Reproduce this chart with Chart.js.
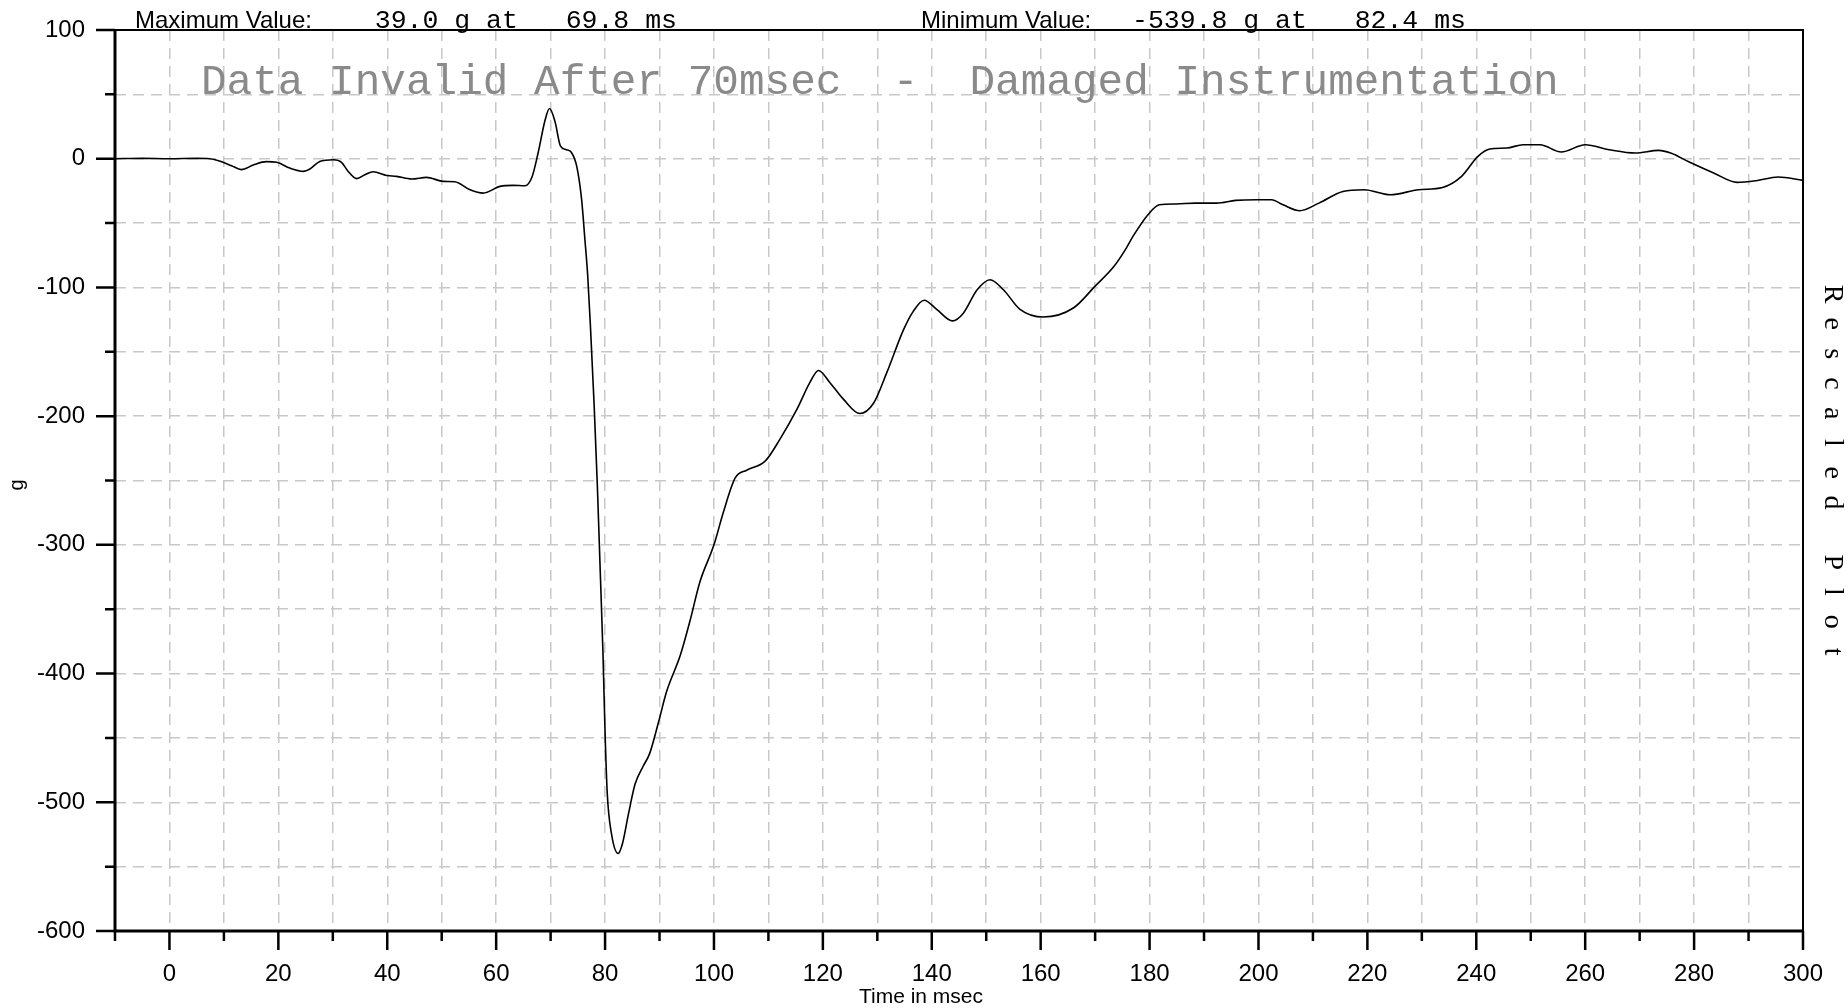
<!DOCTYPE html>
<html>
<head>
<meta charset="utf-8">
<script src="https://cdn.jsdelivr.net/npm/chart.js@4.4.1/dist/chart.umd.min.js"></script>
<style>
  html, body { margin: 0; padding: 0; background: #fff; }
  #wrap { width: 1847px; height: 1008px; }
</style>
</head>
<body>
<div id="wrap"><canvas id="accelChart"></canvas></div>
<script>
// time axis (ms) and acceleration (g)
const timeMs = [-10, -5, 0, 5, 7, 9, 11.4, 13.2, 15.4, 17.8, 19.7, 22.1, 24.6, 25.8, 27.6, 30.1, 31.6, 32.8,
  34.4, 35.9, 37.4, 39.9, 41.7, 44.5, 47.2, 50.3, 52.4, 55.2, 57.6, 60.7, 63.1, 65.3, 66.6, 67.7, 69, 69.8,
  70.8, 71.8, 72.9, 73.8, 74.8, 75.7, 76.3, 76.8, 77.3, 78, 78.6, 79.1, 79.6, 80, 80.4, 81.2, 82.4, 83.2,
  84.3, 85.5, 87, 88.2, 89.8, 91.3, 93.8, 95.6, 97.4, 100, 101.7, 103.9, 106, 109.4, 112.1, 115.2, 117.6,
  119.2, 121.3, 123.8, 126.8, 129.3, 131.7, 134.8, 136.6, 138.6, 140.9, 143.8, 145.8, 148.3, 150.7, 153.2,
  156.2, 160.5, 166, 170, 173.4, 175.5, 177, 179.7, 181.8, 184.9, 188.4, 192.3, 195.8, 199.7, 202.4, 204.5,
  207.6, 211.1, 215.5, 219.4, 224.2, 229.4, 233.8, 237.3, 240.3, 242.5, 245.6, 248.6, 251.7, 255.6, 260,
  264.4, 269.2, 273.5, 275.7, 279.2, 283.6, 287.9, 291.4, 295.4, 300];
const accelG = [0, 0.3, 0, 0.3, 0.2, -1.5, -5.4, -8.5, -4.9, -2.3, -2.8, -7.3, -9.8, -8, -2.1, -0.8, -2.8, -9.8,
  -15.5, -12.4, -10.1, -13, -13.7, -15.8, -14.5, -17.6, -17.9, -24.1, -26.7, -21.5, -20.7, -21, -14, 4.4, 30.3, 39.0,
  29, 10, 7, 5, -6, -32, -63, -90, -129, -192, -256, -319, -382, -446, -493, -525, -539.8, -532,
  -509, -486, -472, -462, -438, -414, -386, -359, -329, -300, -275, -248, -242, -235, -218, -195, -174,
  -164.5, -174, -187, -198, -190, -166.6, -133, -118.6, -110, -117, -126, -120, -102, -94, -102,
  -117, -123, -116, -99, -84, -71, -60, -43.5, -35.8, -35.2, -34.5, -34.5, -32.4, -31.9, -31.9, -35.8,
  -40.4, -34.5, -25.4, -24.1, -28, -24.1, -22.3, -13.7, 1.8, 7.5, 8.3, 10.9, 10.9, 5.2, 10.9,
  7, 4.4, 6.5, 4.4, -2.8, -11.1, -18.4, -17.1, -14.2, -16.8];

const xRange = [-10, 300];
const yRange = [-600, 100];
const noteText = 'Data Invalid After 70msec  -  Damaged Instrumentation';
const sideText = 'Rescaled Plot';

// peak readouts for the header line
const iMax = accelG.indexOf(Math.max(...accelG));
const iMin = accelG.indexOf(Math.min(...accelG));
const fmt = v => v.toFixed(1).padStart(6, ' ');
const maxText = fmt(accelG[iMax]) + ' g at ' + fmt(timeMs[iMax]) + ' ms';
const minText = fmt(accelG[iMin]) + ' g at ' + fmt(timeMs[iMin]) + ' ms';

const SANS = '"Liberation Sans", Arial, sans-serif';
const MONO = '"Liberation Mono", "Courier New", monospace';
const SERIF = '"Liberation Serif", "Times New Roman", serif';

const framePlugin = {
  id: 'frame',
  beforeDatasetsDraw(chart) {
    const ctx = chart.ctx;
    ctx.save();
    ctx.fillStyle = '#8a8a8a';
    ctx.font = '42.7px ' + MONO;
    ctx.textBaseline = 'alphabetic';
    ctx.fillText(noteText, 201, 94);
    ctx.restore();
  },
  afterDraw(chart) {
    const { ctx, chartArea: a, scales: { x, y } } = chart;
    ctx.save();
    ctx.strokeStyle = '#000';
    ctx.lineCap = 'butt';

    // top + right edges
    ctx.lineWidth = 2;
    ctx.beginPath();
    ctx.moveTo(a.left, a.top);
    ctx.lineTo(a.right, a.top);
    ctx.lineTo(a.right, a.bottom);
    ctx.stroke();
    // left + bottom axes
    ctx.lineWidth = 3;
    ctx.beginPath();
    ctx.moveTo(a.left, a.top);
    ctx.lineTo(a.left, a.bottom);
    ctx.lineTo(a.right, a.bottom);
    ctx.stroke();

    // tick marks outside the frame
    ctx.lineWidth = 2.5;
    ctx.beginPath();
    x.ticks.forEach(t => {
      const px = x.getPixelForValue(t.value);
      const len = (t.value >= 0 && t.value % 20 === 0) ? 19 : 10;
      ctx.moveTo(px, a.bottom);
      ctx.lineTo(px, a.bottom + len);
    });
    y.ticks.forEach(t => {
      const py = y.getPixelForValue(t.value);
      const len = (t.value % 100 === 0) ? 19 : 10;
      ctx.moveTo(a.left - len, py);
      ctx.lineTo(a.left, py);
    });
    ctx.stroke();

    ctx.fillStyle = '#000';
    ctx.textBaseline = 'alphabetic';

    // header readouts
    ctx.font = '24px ' + SANS;
    ctx.fillText('Maximum Value:', 135, 28);
    ctx.fillText('Minimum Value:', 921, 28);
    ctx.font = '26.5px ' + MONO;
    ctx.fillText(maxText, 343, 28);
    ctx.fillText(minText, 1132, 28);

    // axis titles
    ctx.font = '21px ' + SANS;
    ctx.textAlign = 'center';
    ctx.fillText('Time in msec', 921, 1003);

    ctx.save();
    ctx.translate(23, 485);
    ctx.rotate(-Math.PI / 2);
    ctx.font = '20px ' + SANS;
    ctx.fillText('g', 0, 0);
    ctx.restore();

    // spaced-out side label
    ctx.font = '28px ' + SERIF;
    ctx.textBaseline = 'middle';
    [...sideText].forEach((ch, i) => {
      ctx.save();
      ctx.translate(1832, 294 + i * 29.8);
      ctx.rotate(Math.PI / 2);
      ctx.fillText(ch, 0, 0);
      ctx.restore();
    });
    ctx.restore();
  }
};

new Chart(document.getElementById('accelChart'), {
  type: 'line',
  data: {
    datasets: [{
      data: timeMs.map((t, i) => ({ x: t, y: accelG[i] })),
      borderColor: '#000',
      borderWidth: 1.6,
      pointRadius: 0,
      cubicInterpolationMode: 'monotone',
      fill: false
    }]
  },
  options: {
    responsive: true,
    maintainAspectRatio: false,
    animation: false,
    layout: { padding: { top: 30, right: 44, left: 0, bottom: 0 } },
    plugins: { legend: { display: false }, tooltip: { enabled: false } },
    scales: {
      x: {
        type: 'linear', min: xRange[0], max: xRange[1],
        afterFit: s => { s.height = 77; s.paddingLeft = 0; s.paddingRight = 0; },
        ticks: {
          stepSize: 10, autoSkip: false, maxRotation: 0, padding: 29, color: '#000',
          font: { family: SANS, size: 24 },
          callback: v => (v >= 0 && v % 20 === 0) ? String(v) : ''
        },
        grid: { color: '#c8c8c8', lineWidth: 1.5, drawTicks: false },
        border: { display: false, dash: [11, 7] }
      },
      y: {
        min: yRange[0], max: yRange[1],
        afterFit: s => { s.width = 115; s.paddingTop = 0; s.paddingBottom = 0; },
        ticks: {
          stepSize: 50, autoSkip: false, padding: 30, color: '#000',
          font: { family: SANS, size: 24 },
          callback: v => (v % 100 === 0) ? String(v) : ''
        },
        grid: { color: '#c8c8c8', lineWidth: 1.5, drawTicks: false },
        border: { display: false, dash: [11, 7] }
      }
    }
  },
  plugins: [framePlugin]
});
</script>
</body>
</html>
